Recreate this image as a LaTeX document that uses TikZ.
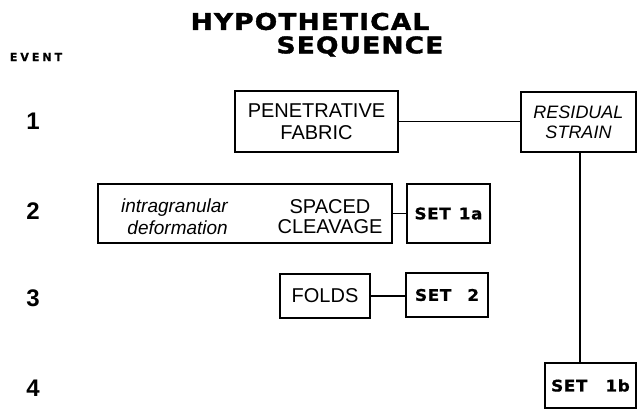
\documentclass[tikz,border=0pt]{standalone}
\usepackage{fontspec}
\setmainfont{Liberation Sans}
\newfontfamily\heavyfont[FakeBold=0.6]{DejaVu Sans}
\newfontfamily\titlefont[FakeStretch=1.15,FakeBold=1.5,LetterSpace=5]{DejaVu Sans}
\newfontfamily\setfont[FakeStretch=1.05,FakeBold=0.8,LetterSpace=4]{DejaVu Sans}
\begin{document}
\begin{tikzpicture}[x=1pt,y=-1pt,
  box/.style={draw,line width=1.5pt,inner sep=0pt,align=center,font=\fontsize{20}{22}\selectfont},
  setbox/.style={draw,line width=1.5pt,inner sep=0pt,font=\setfont\bfseries\fontsize{16}{16}\selectfont},
  link/.style={line width=1.5pt},
  num/.style={font=\bfseries\fontsize{24}{24}\selectfont}]
\useasboundingbox (0,0) rectangle (641,410);
% title
\node[font=\titlefont\bfseries\fontsize{23}{23}\selectfont] (t1) at (310,21.5) {HYPOTHETICAL};
\node[font=\titlefont\bfseries\fontsize{23}{23}\selectfont] (t2) at (360,46.5) {SEQUENCE};
\node[font=\heavyfont\bfseries\fontsize{11}{11}\selectfont] (ev) at (36,57) {E\kern3pt V\kern3pt E\kern3pt N\kern3pt T};
% event numbers
\node[num] (n1) at (33,121) {1};
\node[num] (n2) at (33,211) {2};
\node[num] (n3) at (33,298) {3};
\node[num] (n4) at (33,388) {4};
% boxes
\node[box,minimum width=163pt,minimum height=61pt] (pen) at (316.5,121.5) {PENETRATIVE\\FABRIC};
\node[box,minimum width=115pt,minimum height=60pt,font=\itshape\fontsize{18}{20}\selectfont] (res) at (578.5,122) {RESIDUAL\\STRAIN};
\node[box,minimum width=294pt,minimum height=59pt] (clv) at (245,213.5) {};
\node[align=right,anchor=east,inner sep=0pt,font=\itshape\fontsize{19}{22}\selectfont] (intra) at (228,217) {intragranular\\deformation};
\node[align=center,inner sep=0pt,font=\fontsize{20}{20}\selectfont] (sc) at (330,217) {SPACED\\CLEAVAGE};
\node[setbox,minimum width=83pt,minimum height=59pt] (s1a) at (448.5,213.5) {SET\kern8pt 1a};
\node[box,minimum width=90pt,minimum height=44pt] (fold) at (325,296) {FOLDS};
\node[setbox,minimum width=82pt,minimum height=44pt] (s2) at (447,295) {SET\kern16pt 2};
\node[setbox,minimum width=91pt,minimum height=45pt] (s1b) at (590.5,385.5) {SET\kern18pt 1b};
% connectors
\draw[link] (pen.east) -- (pen.east -| res.west);
\draw[link] (clv.east) -- (clv.east -| s1a.west);
\draw[link] (fold.east) -- (fold.east -| s2.west);
\coordinate (rb) at ([xshift=1.5pt]res.south);
\draw[link] (rb) -- (rb |- s1b.north);
\end{tikzpicture}
\end{document}
